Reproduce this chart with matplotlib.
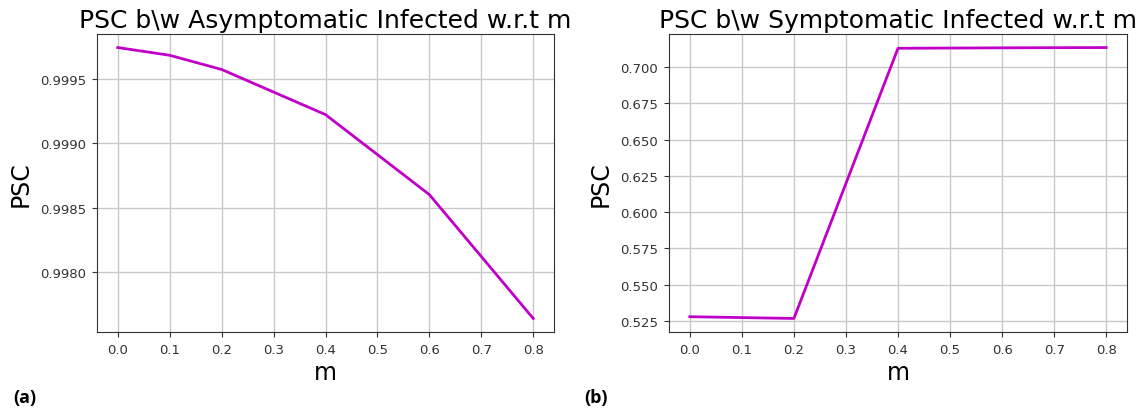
import matplotlib
matplotlib.use("Agg")
import matplotlib.pyplot as plt

# sample points of m
m_values = [0.0, 0.1, 0.2, 0.4, 0.6, 0.8]

# PSC between asymptomatic infected and m
psc_asym = [0.99974, 0.99968, 0.99957, 0.99922, 0.99860, 0.99764]

# PSC between symptomatic infected and m
psc_sym = [0.5278, 0.5272, 0.5266, 0.7131, 0.7134, 0.7136]

x_ticks = [0.0, 0.1, 0.2, 0.3, 0.4, 0.5, 0.6, 0.7, 0.8]
asym_yticks = [0.9980, 0.9985, 0.9990, 0.9995]
sym_yticks = [0.525, 0.550, 0.575, 0.600, 0.625, 0.650, 0.675, 0.700]

fig = plt.figure(figsize=(11.46, 4.10), dpi=100)
W, H = 1146, 410
ax1 = fig.add_axes([97 / W, 1 - 333 / H, (554 - 97) / W, (333 - 35) / H])
ax2 = fig.add_axes([669 / W, 1 - 333 / H, (1127 - 669) / W, (333 - 35) / H])

panels = [
    (ax1, psc_asym, "PSC b\\w Asymptomatic Infected w.r.t m", asym_yticks, "{:.4f}"),
    (ax2, psc_sym, "PSC b\\w Symptomatic Infected w.r.t m", sym_yticks, "{:.3f}"),
]
for ax, vals, title, yt, fmt in panels:
    ax.plot(m_values, vals, color="#c000c8", linewidth=2)
    ax.set_title(title, fontsize=18, pad=5)
    ax.set_xlabel("m", fontsize=17, labelpad=3)
    ax.set_ylabel("PSC", fontsize=17, labelpad=5)
    ax.set_xticks(x_ticks)
    ax.set_xticklabels([f"{t:.1f}" for t in x_ticks], fontsize=9.5)
    ax.set_yticks(yt)
    ax.set_yticklabels([fmt.format(t) for t in yt], fontsize=9.5)
    ax.grid(True, color="#c8c8c8", linewidth=1)
    ax.tick_params(colors="#333333", labelcolor="#333333", pad=4.5)
    for s in ax.spines.values():
        s.set_color("#333333")

fig.text(13 / W, 1 - 398 / H, "(a)", fontsize=13, fontweight="bold",
         family=["Open Sans", "DejaVu Sans"], va="center")
fig.text(584 / W, 1 - 398 / H, "(b)", fontsize=13, fontweight="bold",
         family=["Open Sans", "DejaVu Sans"], va="center")

fig.savefig("out.png", dpi=100)
